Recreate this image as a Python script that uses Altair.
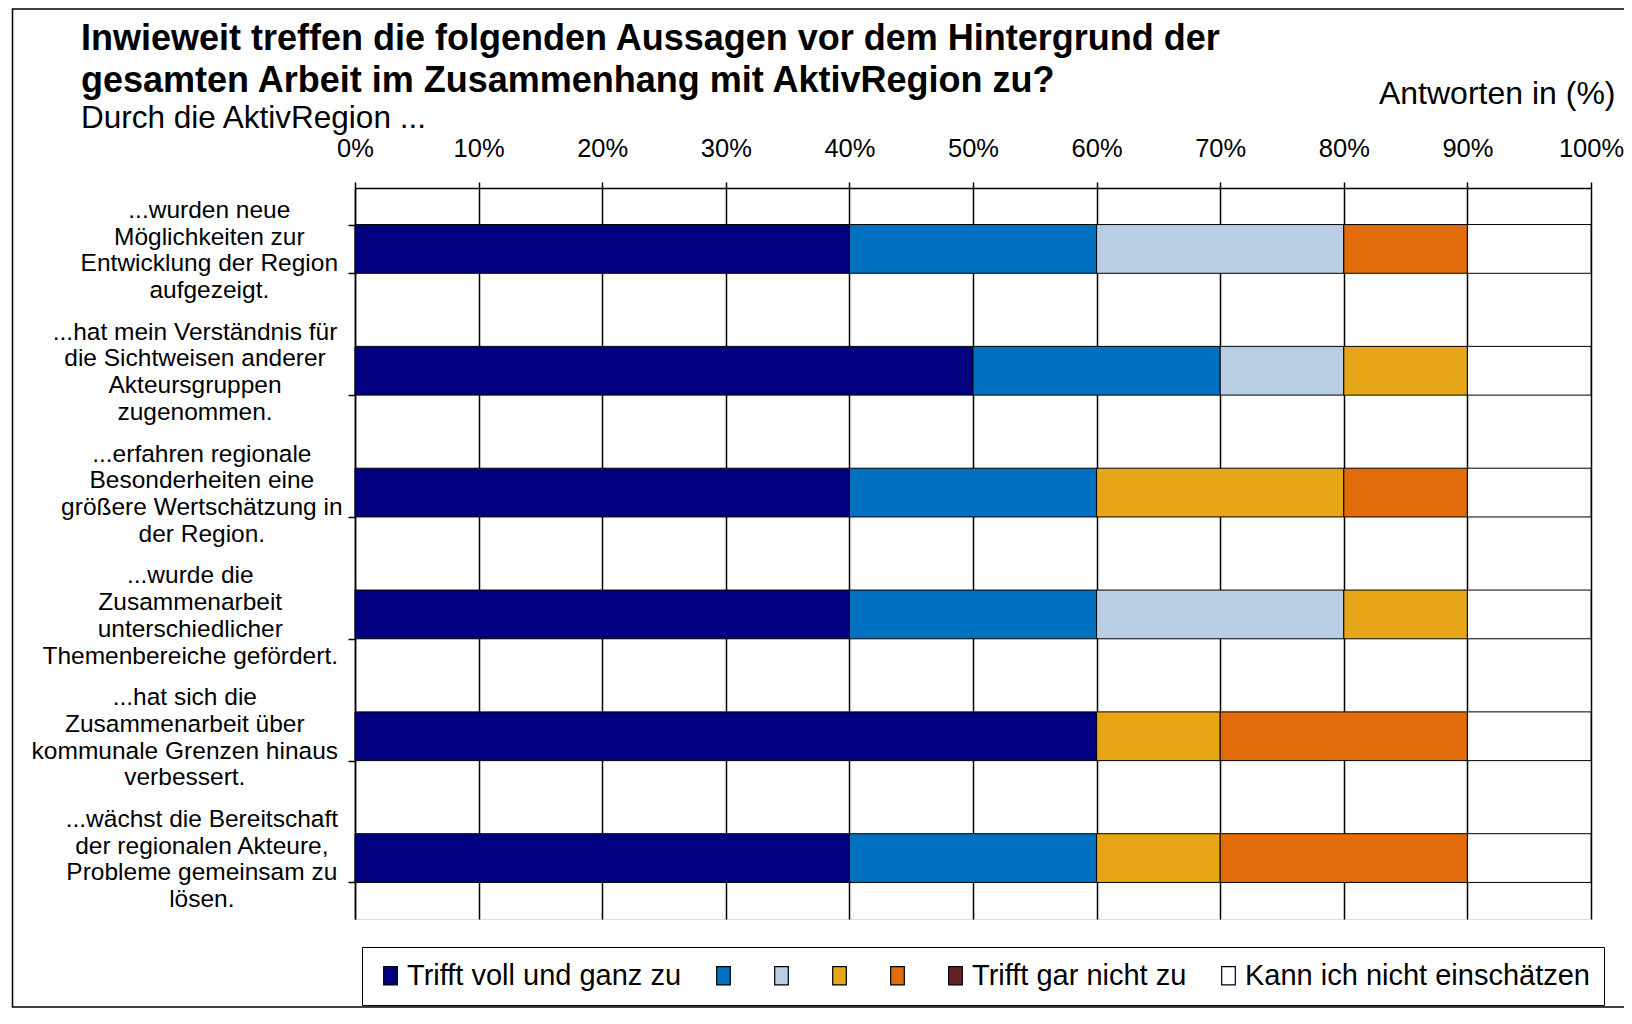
import altair as alt
import pandas as pd

# ---- data ----
categories = [
    "...wurden neue|Möglichkeiten zur|Entwicklung der Region|aufgezeigt.",
    "...hat mein Verständnis für|die Sichtweisen anderer|Akteursgruppen|zugenommen.",
    "...erfahren regionale|Besonderheiten eine|größere Wertschätzung in|der Region.",
    "...wurde die|Zusammenarbeit|unterschiedlicher|Themenbereiche gefördert.",
    "...hat sich die|Zusammenarbeit über|kommunale Grenzen hinaus|verbessert.",
    "...wächst die Bereitschaft|der regionalen Akteure,|Probleme gemeinsam zu|lösen.",
]
series = ["Trifft voll und ganz zu", "2", "3", "4", "5",
          "Trifft gar nicht zu", "Kann ich nicht einschätzen"]
colors = ["#000080", "#0070C0", "#B9CDE5", "#E6A618", "#E36C0A", "#632523", "#FFFFFF"]

s1_voll = [40, 50, 40, 40, 60, 40]
s2 = [20, 20, 20, 20, 0, 20]
s3 = [20, 10, 0, 20, 0, 0]
s4 = [0, 10, 20, 10, 10, 10]
s5 = [10, 0, 10, 0, 20, 20]
s6_garnicht = [0, 0, 0, 0, 0, 0]
s7_kann_nicht = [10, 10, 10, 10, 10, 10]
series_values = [s1_voll, s2, s3, s4, s5, s6_garnicht, s7_kann_nicht]

x_ticks = list(range(0, 101, 10))

FONT = "Liberation Sans"
LABEL_SIZE = 24.5

# Arial / Liberation Sans advance widths (1/1000 em) to centre each label block
_W = {" ": 278, ".": 278, ",": 278, "a": 556, "b": 556, "c": 500, "d": 556, "e": 556,
      "f": 278, "g": 556, "h": 556, "i": 222, "j": 222, "k": 500, "l": 222, "m": 833,
      "n": 556, "o": 556, "p": 556, "q": 556, "r": 333, "s": 500, "t": 278, "u": 556,
      "v": 500, "w": 722, "x": 500, "y": 500, "z": 500, "A": 667, "B": 667, "E": 667,
      "G": 778, "M": 833, "P": 667, "R": 722, "S": 667, "T": 611, "V": 667, "Z": 611,
      "ä": 556, "ö": 556, "ü": 556, "ß": 611}


def text_width(s, size):
    return sum(_W.get(ch, 556) for ch in s) * size / 1000.0


rows = []
for si, (name, vals) in enumerate(zip(series, series_values)):
    for ci, cat in enumerate(categories):
        if vals[ci] > 0:
            rows.append({"cat": cat, "series": name, "idx": si, "value": vals[ci]})
df = pd.DataFrame(rows)

label_rows = []
for cat in categories:
    block = max(text_width(line, LABEL_SIZE) for line in cat.split("|"))
    label_rows.append({"cat": cat, "label": cat, "px": -17 - block / 2.0})
lab_df = pd.DataFrame(label_rows)

y_axis = alt.Axis(
    title=None, labels=False,
    tickBand="extent", tickColor="black", tickWidth=1.5, tickSize=7,
    domainColor="black", domainWidth=1.5, grid=False,
)
y_enc = alt.Y("cat:N", sort=categories,
              scale=alt.Scale(paddingInner=0.6, paddingOuter=0.3), axis=y_axis)

bars = alt.Chart(df).mark_bar(stroke="black", strokeWidth=1).encode(
    x=alt.X(
        "value:Q", stack="zero",
        scale=alt.Scale(domain=[0, 100], nice=False),
        axis=alt.Axis(
            orient="top", values=x_ticks, labelExpr="datum.value + '%'",
            labelFlush=False,
            grid=True, gridColor="black", gridWidth=1.5, gridOpacity=1,
            domainColor="black", domainWidth=1.5,
            tickColor="black", tickWidth=1.5, tickSize=6,
            labelPadding=21, labelFontSize=25.5, labelColor="black", labelFont=FONT,
            title="Antworten in (%)", titleFont=FONT, titleFontSize=32,
            titleFontWeight="normal", titleColor="black",
            titleAlign="right", titleAnchor="end", titleBaseline="alphabetic",
            titleX=1260, titleY=-85,
        ),
    ),
    y=y_enc,
    color=alt.Color(
        "series:N",
        scale=alt.Scale(domain=series, range=colors),
        legend=alt.Legend(
            title=None, orient="none", legendX=7, legendY=759,
            direction="horizontal", columns=7, columnPadding=27,
            labelExpr="length(datum.label) < 3 ? '' : datum.label",
            labelFont=FONT, labelFontSize=29, labelColor="black", labelLimit=600,
            labelOffset=2,
            symbolType="M-0.75,-1H0.75V1H-0.75Z", symbolSize=330,
            symbolStrokeColor="black", symbolStrokeWidth=1.2,
            strokeColor="black", fillColor="white", padding=14,
        ),
    ),
    order=alt.Order("idx:Q"),
)

labels = alt.Chart(lab_df).mark_text(
    align="center", baseline="middle", lineBreak="|", lineHeight=26.7,
    font=FONT, fontSize=LABEL_SIZE, color="black", dy=-38,
).encode(
    x=alt.X("px:Q", scale=None, axis=None),
    y=y_enc,
    text="label:N",
)

frame = alt.Chart(alt.Data(values=[{}])).mark_rect(
    fill="white", fillOpacity=0, stroke="black", strokeWidth=1.5
).encode(
    x=alt.value(-342.5), x2=alt.value(1400),
    y=alt.value(-179), y2=alt.value(819),
)

chart = alt.layer(frame, bars, labels).resolve_scale(x="independent").properties(
    width=1236, height=731,
    autosize=alt.AutoSizeParams(type="none"),
    padding={"left": 347, "top": 180, "right": 33, "bottom": 91},
    title=alt.TitleParams(
        text=["Inwieweit treffen die folgenden Aussagen vor dem Hintergrund der",
              "gesamten Arbeit im Zusammenhang mit AktivRegion zu?"],
        subtitle="Durch die AktivRegion ...",
        anchor="start", frame="group", dx=-274, offset=-127,
        font=FONT, fontSize=36, fontWeight="bold", lineHeight=42, color="black",
        subtitleFont=FONT, subtitleFontSize=31.5, subtitleColor="black",
        subtitlePadding=3,
    ),
).configure_view(stroke="black", strokeWidth=1.5).configure(background="white")

chart.save("out.html", embed_options={"renderer": "svg", "actions": False})
